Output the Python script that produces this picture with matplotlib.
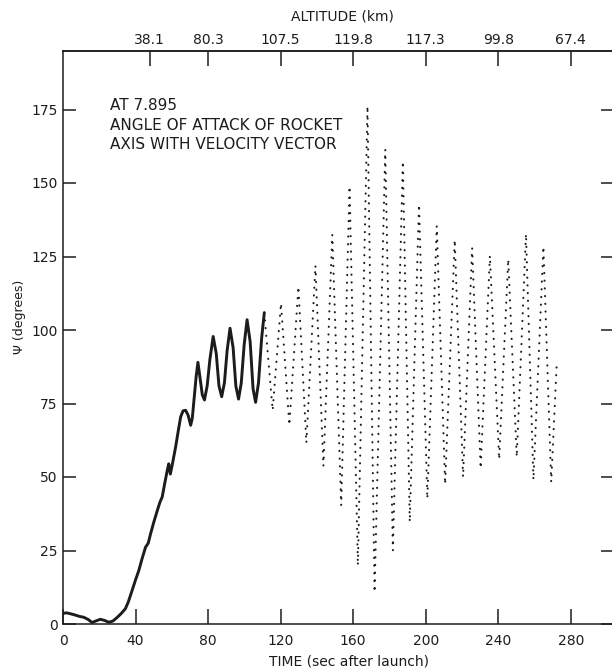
import matplotlib
matplotlib.use('Agg')
import matplotlib.pyplot as plt
import numpy as np

fontsize = 10
ink = '#1c1c1c'

# values: time after launch (s), psi (degrees)
time_s = [0.0, 2.0, 5.9, 9.0, 11.4, 14.0, 16.0, 18.0, 20.6, 23.0, 25.2, 27.5,
          29.8, 32.0, 34.4, 36.0, 38.1, 40.0, 41.8, 43.5, 45.5, 47.0, 48.3,
          50.0, 52.0, 53.5, 54.7, 56.0, 57.5, 58.3, 59.2, 60.5, 62.1, 63.5,
          64.9, 66.2, 67.6, 69.0, 70.4, 71.3, 72.2, 73.4, 74.4, 75.5, 76.8,
          78.0, 79.5, 81.0, 82.8, 84.5, 86.0, 87.5, 89.0, 90.5, 92.1, 93.8,
          95.3, 96.8, 98.3, 99.9, 101.5, 103.2, 104.8, 106.2, 107.8, 109.5,
          111.0, 115.6, 120.2, 124.8, 129.8, 134.2, 139.2, 143.6, 148.5,
          153.4, 158.0, 162.6, 167.9, 171.8, 177.7, 181.9, 187.4, 191.2,
          196.3, 200.9, 206.1, 210.7, 216.0, 220.6, 225.6, 230.3, 235.4,
          240.5, 245.5, 250.2, 255.3, 259.4, 264.9, 269.2, 272.3]
psi_deg = [3.6, 3.8, 3.2, 2.6, 2.3, 1.5, 0.5, 1.0, 1.6, 1.2, 0.6, 1.0,
           2.2, 3.5, 5.2, 7.5, 11.4, 15.0, 18.2, 22.0, 26.1, 27.5, 30.7,
           34.5, 38.6, 41.5, 43.2, 47.5, 52.3, 54.5, 51.0, 55.0, 60.2, 65.5,
           70.5, 72.5, 72.7, 71.0, 67.6, 70.0, 76.0, 84.0, 89.0, 84.0, 78.0,
           76.2, 81.0, 90.0, 97.8, 92.0, 81.0, 77.3, 82.0, 93.0, 100.6, 94.0,
           81.0, 76.5, 82.0, 95.0, 103.5, 96.0, 80.0, 75.4, 82.0, 97.0,
           105.9, 72.7, 109.1, 67.6, 114.8, 61.6, 121.9, 53.7, 132.4,
           40.3, 148.9, 19.9, 176.2, 10.8, 161.4, 25.0, 157.4, 34.7,
           142.7, 42.6, 135.4, 47.5, 130.7, 50.0, 127.9, 52.9, 125.3,
           56.0, 124.1, 56.8, 132.7, 49.0, 128.4, 48.3, 89.2]
# after this time the trace is only sparse dots
dot_start = 111.0

x_ticks = [0, 40, 80, 120, 160, 200, 240, 280]
y_ticks = [0, 25, 50, 75, 100, 125, 150, 175]
alt_times = [47.7, 80, 120, 160, 200, 240, 280]
alt_labels = ['38.1', '80.3', '107.5', '119.8', '117.3', '99.8', '67.4']
note_lines = ['AT 7.895', 'ANGLE OF ATTACK OF ROCKET', 'AXIS WITH VELOCITY VECTOR']

W, H = 612, 669
fig = plt.figure(figsize=(W / 100, H / 100), dpi=100)
ax = fig.add_axes([63 / W, 45 / H, 549.5 / W, 573.3 / H])

t = np.array(time_s)
p = np.array(psi_deg)
solid = t <= dot_start
dots = t >= dot_start
ax.plot(t[solid], p[solid], color=ink, lw=2.1,
        solid_joinstyle='round', solid_capstyle='round')
ax.plot(t[dots], p[dots], color=ink, lw=1.5,
        linestyle=(0, (0.1, 3.6)), dash_capstyle='round')

ax.set_xlim(0, 303)
ax.set_ylim(0, 195)
ax.set_xticks(x_ticks)
ax.set_yticks(y_ticks)
ax.tick_params(axis='x', direction='in', length=11, width=1.1, pad=7,
               labelsize=fontsize, colors=ink, top=False)
ax.tick_params(axis='y', direction='in', length=9, width=1.1, pad=4,
               labelsize=fontsize, colors=ink, right=True)
for s in ax.spines.values():
    s.set_linewidth(1.1)
    s.set_color(ink)

sec = ax.secondary_xaxis('top')
sec.set_xticks(alt_times, labels=alt_labels)
sec.tick_params(direction='in', length=11, width=1.1, pad=3,
                labelsize=fontsize, colors=ink)
sec.spines['top'].set_linewidth(1.1)
sec.spines['top'].set_color(ink)

baselines = [0.8966, 0.8617, 0.8285]
for line, yb in zip(note_lines, baselines):
    ax.text(0.0855, yb, line, transform=ax.transAxes, fontsize=11,
            color=ink, ha='left', va='baseline')

fig.text(342 / W, 1 - 17 / H, 'ALTITUDE (km)', fontsize=fontsize,
         color=ink, ha='center', va='center')
fig.text(349 / W, 1 - 661.7 / H, 'TIME (sec after launch)', fontsize=fontsize,
         color=ink, ha='center', va='center')
fig.text(20 / W, 1 - 317 / H, 'Ψ (degrees)', fontsize=9, rotation=90,
         color=ink, ha='center', va='center')

fig.savefig('out.png', dpi=100, facecolor='white')
